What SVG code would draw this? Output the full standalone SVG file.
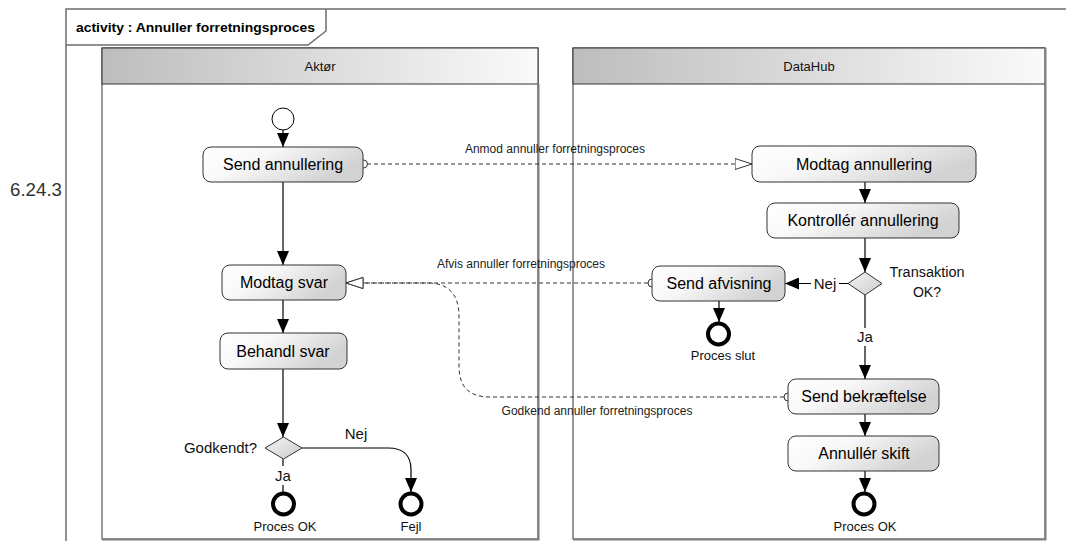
<svg xmlns="http://www.w3.org/2000/svg" width="1066" height="541" viewBox="0 0 1066 541">
<style>
.frame{fill:none;stroke:#6e6e6e;stroke-width:1.5}
.lane{fill:#fff;stroke:#333;stroke-width:1}
.shadow{fill:none;stroke:#7f7f7f;stroke-width:2}
.hdr{fill:url(#gHdr);stroke:#333;stroke-width:1}
.node{fill:url(#gNode);stroke:#333;stroke-width:1}
.dia{fill:url(#gDia);stroke:#333;stroke-width:1}
.ntxt{font-family:"Liberation Sans",Arial,sans-serif;font-size:16px;fill:#000;text-anchor:middle}
.lbl{font-family:"Liberation Sans",Arial,sans-serif;font-size:13px;fill:#111;text-anchor:middle}
.glbl{font-family:"Liberation Sans",Arial,sans-serif;font-size:15px;fill:#111;text-anchor:middle}
.msg{font-family:"Liberation Sans",Arial,sans-serif;font-size:12px;fill:#222;text-anchor:middle}
.flow{fill:none;stroke:#000;stroke-width:1.2;marker-end:url(#arr)}
.line{fill:none;stroke:#000;stroke-width:1.2}
.dash{fill:none;stroke:#333;stroke-width:1;stroke-dasharray:4 3}
.final{fill:#fff;stroke:#000;stroke-width:4}
.start{fill:#fff;stroke:#000;stroke-width:1}
.port{fill:#fff;stroke:#333;stroke-width:1}
.bg{fill:#fff}
</style>
<defs>
<linearGradient id="gNode" x1="0" y1="0" x2="1" y2="0.4">
<stop offset="0" stop-color="#ffffff"/>
<stop offset="0.4" stop-color="#f8f8f8"/>
<stop offset="1" stop-color="#d2d2d2"/>
</linearGradient>
<linearGradient id="gDia" x1="0" y1="0" x2="1" y2="1">
<stop offset="0" stop-color="#f4f4f4"/>
<stop offset="1" stop-color="#cccccc"/>
</linearGradient>
<linearGradient id="gHdr" x1="0" y1="0" x2="1" y2="0">
<stop offset="0" stop-color="#bdbdbd"/>
<stop offset="1" stop-color="#fafafa"/>
</linearGradient>
<marker id="arr" viewBox="0 0 14 12" refX="14" refY="6" markerWidth="14" markerHeight="12" markerUnits="userSpaceOnUse" orient="auto">
<path d="M0,0 L14,6 L0,12 z" fill="#000"/>
</marker>
<marker id="open" viewBox="0 0 18 12" refX="17.5" refY="6" markerWidth="18" markerHeight="12" markerUnits="userSpaceOnUse" orient="auto">
<path d="M0.5,0.5 L17.5,6 L0.5,11.5 z" fill="#fff" stroke="#333" stroke-width="1"/>
</marker>
</defs>

<rect x="0" y="0" width="1066" height="541" fill="#fff"/>

<text x="62" y="196" font-family="'Liberation Sans',Arial,sans-serif" font-size="19" fill="#333" text-anchor="end" textLength="52" lengthAdjust="spacingAndGlyphs">6.24.3</text>

<g id="frame">
<path class="frame" d="M66,541 L66,9 L1066,9"/>
<path class="frame" d="M66,45 L308,45 L326,31 L326,9"/>
<text x="76" y="32" font-family="'Liberation Sans',Arial,sans-serif" font-size="13.5" font-weight="bold" fill="#000" textLength="239" lengthAdjust="spacingAndGlyphs">activity : Annuller forretningsproces</text>
</g>

<g id="lane-aktor">
<rect class="lane" x="102" y="48" width="436" height="491"/>
<rect class="hdr" x="102" y="48" width="436" height="36"/>
<path class="shadow" d="M538.5,84 L538.5,539.5 L102,539.5"/>
<text x="320" y="71" font-family="'Liberation Sans',Arial,sans-serif" font-size="13" fill="#111" text-anchor="middle">Aktør</text>
</g>

<g id="lane-datahub">
<rect class="lane" x="573" y="48" width="472" height="491"/>
<rect class="hdr" x="573" y="48" width="472" height="36"/>
<path class="shadow" d="M1045.5,48 L1045.5,539.5 L573,539.5"/>
<text x="809" y="71" font-family="'Liberation Sans',Arial,sans-serif" font-size="13" fill="#111" text-anchor="middle">DataHub</text>
</g>

<g id="connectors">
<path class="flow" d="M283,130 L283,147"/>
<path class="flow" d="M283,182 L283,265"/>
<path class="flow" d="M283,300 L283,333"/>
<path class="flow" d="M283,369 L283,437"/>
<path class="line" d="M283,459 L283,492"/>
<rect class="bg" x="273" y="466" width="20" height="19"/>
<text class="glbl" x="283" y="481">Ja</text>
<path class="flow" d="M302,448 L388,448 C405,448 411,456 411,470 L411,492"/>
<text class="glbl" x="356" y="439">Nej</text>

<path class="flow" d="M865,182 L865,203"/>
<path class="flow" d="M865,238 L865,272"/>
<path class="flow" d="M848,283.5 L785,283.5"/>
<rect class="bg" x="811" y="274" width="28" height="18"/>
<text class="glbl" x="825" y="289">Nej</text>
<path class="flow" d="M719,301 L719,322"/>
<path class="flow" d="M865,295 L865,379"/>
<rect class="bg" x="855" y="328" width="20" height="18"/>
<text class="glbl" x="865" y="342">Ja</text>
<path class="flow" d="M865,414 L865,436"/>
<path class="flow" d="M865,471 L865,492"/>

<path class="dash" d="M367,164 L752,164" marker-end="url(#open)"/>
<circle class="port" cx="363.5" cy="164" r="4"/>
<text class="msg" x="555" y="153">Anmod annuller forretningsproces</text>

<path class="dash" d="M648,283 L346,283" marker-end="url(#open)"/>
<circle class="port" cx="652" cy="283" r="4"/>
<text class="msg" x="521" y="268">Afvis annuller forretningsproces</text>

<path class="dash" d="M784,397 L490,397 C468,397 459,386 459,366 L459,316 C459,296 450,284 430,283 L346,283" marker-end="url(#open)"/>
<circle class="port" cx="788" cy="397" r="4"/>
<text class="msg" x="597" y="415">Godkend annuller forretningsproces</text>
</g>

<g id="n-start"><circle class="start" cx="283" cy="119" r="11"/></g>
<g id="n-send-annullering">
<rect class="node" x="203" y="147" width="160" height="35" rx="8"/>
<text class="ntxt" x="283" y="170">Send annullering</text>
</g>
<g id="n-modtag-svar">
<rect class="node" x="222" y="265" width="124" height="35" rx="8"/>
<text class="ntxt" x="284" y="288">Modtag svar</text>
</g>
<g id="n-behandl-svar">
<rect class="node" x="220" y="333" width="127" height="36" rx="8"/>
<text class="ntxt" x="283" y="357">Behandl svar</text>
</g>
<g id="n-godkendt">
<polygon class="dia" points="283.5,437 302,448 283.5,459 265,448"/>
<text x="257" y="453" font-family="'Liberation Sans',Arial,sans-serif" font-size="14.5" fill="#111" text-anchor="end" textLength="73" lengthAdjust="spacingAndGlyphs">Godkendt?</text>
</g>
<g id="n-proces-ok-a">
<circle class="final" cx="283.5" cy="504" r="10.5"/>
<text class="lbl" x="285" y="531">Proces OK</text>
</g>
<g id="n-fejl">
<circle class="final" cx="411" cy="504" r="10.5"/>
<text class="lbl" x="411" y="531">Fejl</text>
</g>

<g id="n-modtag-annullering">
<rect class="node" x="752" y="146" width="224" height="36" rx="8"/>
<text class="ntxt" x="864" y="170">Modtag annullering</text>
</g>
<g id="n-kontroller">
<rect class="node" x="767" y="203" width="192" height="35" rx="8"/>
<text class="ntxt" x="863" y="226">Kontrollér annullering</text>
</g>
<g id="n-transaktion">
<polygon class="dia" points="865,272 882,283.5 865,295 848,283.5"/>
<text x="927" y="277" font-family="'Liberation Sans',Arial,sans-serif" font-size="14" fill="#111" text-anchor="middle" textLength="75" lengthAdjust="spacingAndGlyphs">Transaktion</text>
<text x="927" y="297" font-family="'Liberation Sans',Arial,sans-serif" font-size="14" fill="#111" text-anchor="middle">OK?</text>
</g>
<g id="n-send-afvisning">
<rect class="node" x="652" y="266" width="133" height="35" rx="8"/>
<text class="ntxt" x="719" y="289">Send afvisning</text>
</g>
<g id="n-proces-slut">
<circle class="final" cx="718.5" cy="334" r="10.5"/>
<text class="lbl" x="723" y="360">Proces slut</text>
</g>
<g id="n-send-bekraeftelse">
<rect class="node" x="788" y="379" width="151" height="35" rx="8"/>
<text class="ntxt" x="864" y="402">Send bekræftelse</text>
</g>
<g id="n-annuller-skift">
<rect class="node" x="788" y="436" width="151" height="35" rx="8"/>
<text class="ntxt" x="864" y="459">Annullér skift</text>
</g>
<g id="n-proces-ok-d">
<circle class="final" cx="864" cy="504" r="10.5"/>
<text class="lbl" x="865" y="531">Proces OK</text>
</g>
</svg>
